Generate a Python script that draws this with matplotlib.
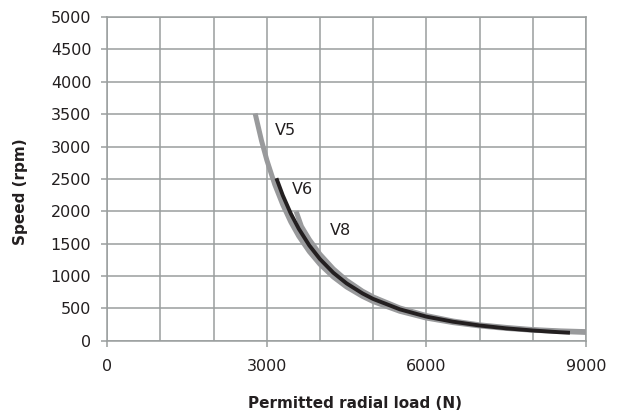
import matplotlib
matplotlib.use("Agg")
import matplotlib.pyplot as plt
from matplotlib.ticker import MultipleLocator

# permitted radial load (N) vs speed (rpm)
v5_load = [2780, 2900, 3000, 3150, 3300, 3450, 3600, 3800, 4000, 4250, 4500,
           4800, 5000, 5500, 6000, 6500, 7000, 7500, 8000, 8500, 9000]
v5_speed = [3510, 3090, 2790, 2410, 2100, 1835, 1615, 1375, 1180, 985, 830,
            685, 605, 455, 350, 280, 228, 190, 162, 143, 128]

v6_load = [3180, 3300, 3450, 3600, 3800, 4000, 4250, 4500, 4800, 5000, 5500,
           6000, 6500, 7000, 7500, 8000, 8500, 8700]
v6_speed = [2510, 2245, 1965, 1730, 1470, 1260, 1050, 885, 730, 645, 485,
            372, 294, 235, 191, 158, 131, 123]

v8_load = [3550, 3650, 3800, 4000, 4250, 4500, 4800, 5000, 5500, 6000, 6500,
           7000, 7500, 8000, 8500, 9000]
v8_speed = [2000, 1767, 1562, 1335, 1110, 932, 765, 676, 506, 388, 304,
            245, 205, 172, 152, 140]

curve_names = ["V5", "V6", "V8"]
label_pos = [(3150, 3255), (3466, 2343), (4187, 1710)]

grid_col = "#9a9e9e"
text_col = "#231f20"
plt.rcParams["font.family"] = ["DejaVu Sans"]

fig = plt.figure(figsize=(6.22, 4.16), dpi=100)
ax = fig.add_axes([0.1725, 0.181, 0.7695, 0.778])

ax.plot(v5_load, v5_speed, color="#999a9c", lw=3.6, solid_capstyle="butt", zorder=3)
ax.plot(v8_load, v8_speed, color="#999a9c", lw=3.6, solid_capstyle="butt", zorder=3)
ax.plot(v6_load, v6_speed, color=text_col, lw=2.8, solid_capstyle="butt", zorder=4)

for name, (lx, ly) in zip(curve_names, label_pos):
    ax.text(lx, ly, name, fontsize=11.5, color=text_col, ha="left", va="center")

ax.set_xlim(0, 9000)
ax.set_ylim(0, 5000)
ax.xaxis.set_major_locator(MultipleLocator(3000))
ax.xaxis.set_minor_locator(MultipleLocator(1000))
ax.yaxis.set_major_locator(MultipleLocator(500))

ax.grid(True, which="both", color=grid_col, lw=1.1, zorder=0)
ax.set_axisbelow(True)
for sp in ax.spines.values():
    sp.set_color(grid_col)
    sp.set_linewidth(1.1)

ax.tick_params(axis="x", which="major", length=4.5, width=1.1, color=grid_col,
               pad=9, labelsize=11.5, labelcolor=text_col)
ax.tick_params(axis="x", which="minor", length=0)
ax.tick_params(axis="y", length=4.5, width=1.1, color=grid_col,
               pad=7, labelsize=11.5, labelcolor=text_col)

ax.set_xlabel("Permitted radial load (N)", fontsize=11, fontweight="bold", color=text_col)
ax.set_ylabel("Speed (rpm)", fontsize=11, fontweight="bold", color=text_col)
ax.xaxis.set_label_coords(0.518, -0.171)
ax.yaxis.set_label_coords(-0.166, 0.46)

fig.savefig("out.png", dpi=100)
